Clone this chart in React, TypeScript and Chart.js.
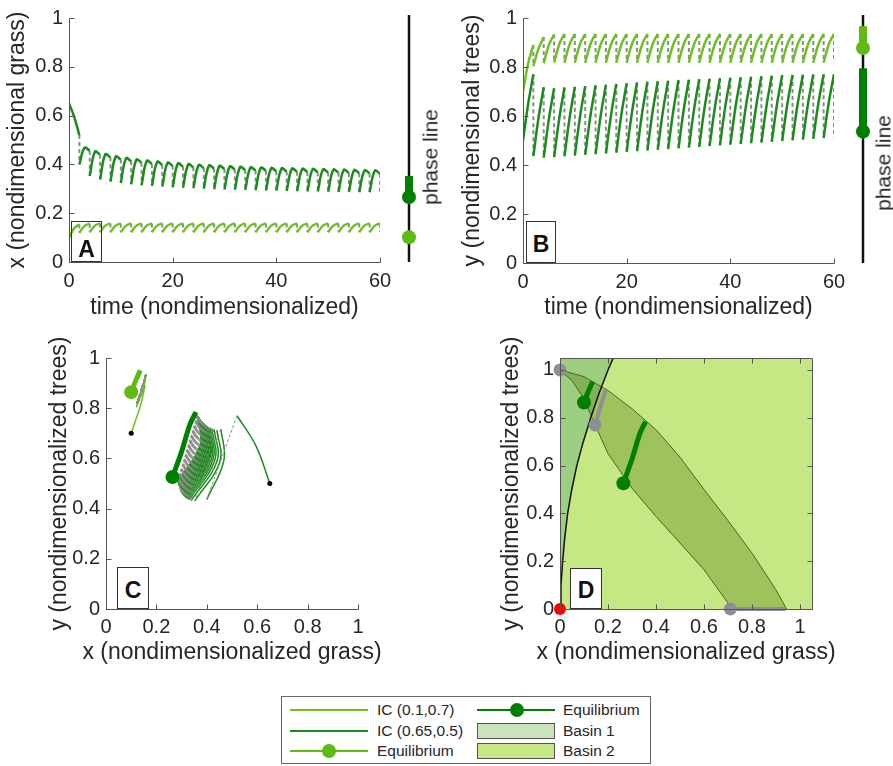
import React, { useEffect, useRef } from 'react';
import { Chart, registerables } from 'chart.js';

Chart.register(...registerables);

const FONT = "'Liberation Sans', Arial, Helvetica, sans-serif";
const TEXT = '#262626';
const AXIS = '#555555';

const C_LIGHT = '#6cc21f';
const C_LIGHT_EQ = '#5fba14';
const C_DARK = '#1a8c1a';
const C_DARK_EQ = '#008000';
const C_GRAY = '#8c8c8c';
const C_GRAY_EQ = '#8e8e96';
const C_BASIN1 = '#c8e5ba';
const C_BASIN2 = '#c5e885';
const C_WEDGE = '#9ccf80';
const C_LENS = 'rgba(70,110,0,0.30)';
const C_LENS_EDGE = '#4c6420';

// ---------------- data ----------------
const periodTimes = [0, 2, 4, 6, 8, 10, 12, 14, 16, 18, 20, 22, 24, 26, 28, 30, 32, 34, 36, 38, 40, 42, 44, 46, 48, 50, 52, 54, 56, 58, 60];

// IC (0.1, 0.7): grass x
const grassIC1Start = [0.100, 0.120, 0.122, 0.122, 0.122, 0.122, 0.122, 0.122, 0.122, 0.122, 0.122, 0.122, 0.122, 0.122, 0.122, 0.122, 0.122, 0.122, 0.122, 0.122, 0.122, 0.122, 0.122, 0.122, 0.122, 0.122, 0.122, 0.122, 0.122, 0.122, 0.122];
const grassIC1Mid = [0.138, 0.148, 0.149, 0.149, 0.149, 0.149, 0.149, 0.149, 0.149, 0.149, 0.149, 0.149, 0.149, 0.149, 0.149, 0.149, 0.149, 0.149, 0.149, 0.149, 0.149, 0.149, 0.149, 0.149, 0.149, 0.149, 0.149, 0.149, 0.149, 0.149];
const grassIC1End = [0.155, 0.157, 0.158, 0.158, 0.158, 0.158, 0.158, 0.158, 0.158, 0.158, 0.158, 0.158, 0.158, 0.158, 0.158, 0.158, 0.158, 0.158, 0.158, 0.158, 0.158, 0.158, 0.158, 0.158, 0.158, 0.158, 0.158, 0.158, 0.158, 0.158];
// IC (0.1, 0.7): trees y
const treesIC1Start = [0.700, 0.804, 0.815, 0.818, 0.818, 0.818, 0.818, 0.818, 0.818, 0.818, 0.818, 0.818, 0.818, 0.818, 0.818, 0.818, 0.818, 0.818, 0.818, 0.818, 0.818, 0.818, 0.818, 0.818, 0.818, 0.818, 0.818, 0.818, 0.818, 0.818, 0.818];
const treesIC1Mid = [0.815, 0.875, 0.890, 0.893, 0.893, 0.893, 0.893, 0.893, 0.893, 0.893, 0.893, 0.893, 0.893, 0.893, 0.893, 0.893, 0.893, 0.893, 0.893, 0.893, 0.893, 0.893, 0.893, 0.893, 0.893, 0.893, 0.893, 0.893, 0.893, 0.893];
const treesIC1End = [0.890, 0.922, 0.933, 0.935, 0.935, 0.935, 0.935, 0.935, 0.935, 0.935, 0.935, 0.935, 0.935, 0.935, 0.935, 0.935, 0.935, 0.935, 0.935, 0.935, 0.935, 0.935, 0.935, 0.935, 0.935, 0.935, 0.935, 0.935, 0.935, 0.935];

// IC (0.65, 0.5): grass x
const grassIC2Start = [0.650, 0.400, 0.352, 0.338, 0.330, 0.324, 0.319, 0.315, 0.312, 0.309, 0.306, 0.304, 0.302, 0.300, 0.298, 0.297, 0.296, 0.295, 0.294, 0.293, 0.292, 0.291, 0.290, 0.289, 0.289, 0.288, 0.287, 0.287, 0.286, 0.286, 0.285];
const grassIC2Mid = [0.595, 0.468, 0.452, 0.441, 0.432, 0.425, 0.419, 0.414, 0.410, 0.406, 0.403, 0.400, 0.397, 0.395, 0.393, 0.391, 0.389, 0.387, 0.386, 0.384, 0.383, 0.382, 0.381, 0.380, 0.379, 0.378, 0.377, 0.376, 0.375, 0.374];
const grassIC2End = [0.520, 0.456, 0.440, 0.429, 0.420, 0.413, 0.407, 0.402, 0.398, 0.394, 0.391, 0.388, 0.385, 0.383, 0.381, 0.379, 0.377, 0.375, 0.374, 0.372, 0.371, 0.370, 0.369, 0.368, 0.367, 0.366, 0.365, 0.364, 0.363, 0.362];
// IC (0.65, 0.5): trees y
const treesIC2Start = [0.500, 0.436, 0.430, 0.432, 0.435, 0.438, 0.441, 0.444, 0.447, 0.450, 0.453, 0.456, 0.459, 0.462, 0.465, 0.468, 0.471, 0.474, 0.477, 0.480, 0.483, 0.486, 0.489, 0.492, 0.495, 0.498, 0.501, 0.504, 0.507, 0.510, 0.512];
const treesIC2Mid = [0.650, 0.593, 0.588, 0.591, 0.594, 0.597, 0.600, 0.603, 0.606, 0.609, 0.612, 0.615, 0.617, 0.620, 0.622, 0.625, 0.627, 0.630, 0.632, 0.635, 0.637, 0.639, 0.642, 0.644, 0.647, 0.649, 0.651, 0.652, 0.654, 0.656];
const treesIC2End = [0.770, 0.717, 0.713, 0.716, 0.719, 0.722, 0.725, 0.728, 0.731, 0.734, 0.737, 0.740, 0.742, 0.744, 0.746, 0.748, 0.750, 0.752, 0.754, 0.756, 0.758, 0.760, 0.762, 0.764, 0.766, 0.767, 0.768, 0.769, 0.770, 0.771];

// initial conditions
const icX = [0.1, 0.65];
const icY = [0.7, 0.5];

// stable periodic orbits (equilibria of the impulsive map)
const eqUpperX = [0.100, 0.118, 0.136];
const eqUpperY = [0.864, 0.910, 0.951];
const eqLowerX = [0.264, 0.299, 0.333, 0.357];
const eqLowerY = [0.526, 0.624, 0.735, 0.784];

// phase lines
const phaseAxisX = [0, 0];
const phaseAxisY = [0, 1];
const phaseAGrassLight = [0.1];
const phaseAGrassDark = [0.263, 0.348];
const phaseBTreesLight = [0.867, 0.955];
const phaseBTreesDark = [0.53, 0.785];

// panel D: basins
const domainCornersX = [0, 1.05, 1.05, 0];
const domainCornersY = [0, 0, 1.05, 1.05];
const separatrixX = [0, 0.004, 0.011, 0.020, 0.032, 0.049, 0.070, 0.097, 0.128, 0.162, 0.200, 0.222];
const separatrixY = [0, 0.1, 0.2, 0.3, 0.4, 0.5, 0.6, 0.7, 0.8, 0.9, 1.0, 1.05];
const basin1CornerX = [0];
const basin1CornerY = [1.05];
const lensUpperX = [0, 0.1, 0.2, 0.3, 0.4, 0.5, 0.6, 0.7, 0.8, 0.9, 0.944];
const lensUpperY = [1, 0.972, 0.914, 0.838, 0.75, 0.635, 0.5, 0.37, 0.234, 0.08, 0];
const lensLowerX = [0.71, 0.7, 0.6, 0.5, 0.4, 0.3, 0.2, 0.146, 0.1, 0.05, 0];
const lensLowerY = [0, 0.025, 0.164, 0.276, 0.387, 0.505, 0.65, 0.77, 0.88, 0.955, 1];
const unstableDotsX = [0, 0.146, 0.71];
const unstableDotsY = [1, 0.77, 0];
const unstableUpperX = [0.146, 0.168, 0.19];
const unstableUpperY = [0.77, 0.845, 0.916];
const unstableLowerX = [0.71, 0.94];
const unstableLowerY = [0, 0];
const originX = [0];
const originY = [0];

// ticks
const timeTicks = [0, 20, 40, 60];
const timeTickLabels = ['0', '20', '40', '60'];
const unitTicks = [0, 0.2, 0.4, 0.6, 0.8, 1];
const unitTickLabels = ['0', '0.2', '0.4', '0.6', '0.8', '1'];

// ---------------- helpers ----------------
const pts = (xs: number[], ys: number[]) => xs.map((x, i) => ({ x, y: ys[i] }));

const line = (data: any[], color: string, width: number, extra: any = {}) => ({
  data, borderColor: color, backgroundColor: color, borderWidth: width,
  pointRadius: 0, tension: 0, fill: false, ...extra,
});
const dots = (data: any[], color: string, radius: number, extra: any = {}) => ({
  data, showLine: false, pointRadius: radius, pointBackgroundColor: color,
  pointBorderColor: color, pointBorderWidth: 0, clip: false, ...extra,
});
const layered = (sets: any[]) => sets.map((s, i) => ({ ...s, order: sets.length - i }));

function toothSets(start: number[], mid: number[], end: number[], color: string, width: number) {
  return mid.map((m, k) => line([
    { x: periodTimes[k], y: start[k] },
    { x: (periodTimes[k] + periodTimes[k + 1]) / 2, y: m },
    { x: periodTimes[k + 1], y: end[k] },
  ], color, width, { tension: 0.4 }));
}
function jumpSet(start: number[], end: number[], color: string, width: number, dash: number[]) {
  const data: any[] = [];
  end.forEach((e, k) => {
    const t = periodTimes[k + 1];
    data.push({ x: t, y: e }, { x: t, y: start[k + 1] }, { x: t, y: null });
  });
  return line(data, color, width, { borderDash: dash });
}
function arcSets(xs: number[], xm: number[], xe: number[], ys: number[], ym: number[], ye: number[], color: string, width: number) {
  return xm.map((_, k) => line([
    { x: xs[k], y: ys[k] }, { x: xm[k], y: ym[k] }, { x: xe[k], y: ye[k] },
  ], color, width, { tension: 0.4 }));
}
function arcJumps(xs: number[], xe: number[], ys: number[], ye: number[], color: string, width: number, dash: number[]) {
  const data: any[] = [];
  xe.forEach((_, k) => {
    data.push({ x: xe[k], y: ye[k] }, { x: xs[k + 1], y: ys[k + 1] }, { x: xs[k + 1], y: null });
  });
  return line(data, color, width, { borderDash: dash });
}

function valueAxis(kind: 'x' | 'y', min: number, max: number, ticks: number[], labels: string[], size: number, tickPad: number, title?: string, titlePad = 0) {
  return {
    type: 'linear', position: kind === 'x' ? 'bottom' : 'left', min, max,
    afterBuildTicks: (sc: any) => { sc.ticks = ticks.map((v) => ({ value: v })); },
    afterFit: (sc: any) => { if (kind === 'x') sc.height = size; else sc.width = size; },
    grid: { display: false, drawTicks: false },
    border: { display: false },
    ticks: {
      padding: tickPad, color: TEXT, font: { size: 20, family: FONT },
      autoSkip: false, maxRotation: 0, minRotation: 0,
      callback: (_v: any, i: number) => labels[i],
    },
    title: title
      ? { display: true, text: title, color: TEXT, font: { size: 23, family: FONT, lineHeight: 1 }, padding: { top: titlePad, bottom: titlePad } }
      : { display: false },
  };
}
const spacerAxis = (size: number) => ({
  type: 'linear', position: 'right', display: true,
  grid: { display: false, drawTicks: false }, border: { display: false }, ticks: { display: false },
  afterFit: (sc: any) => { sc.width = size; },
});

const frameTicks = {
  id: 'frameTicks',
  afterDatasetsDraw(chart: any, _args: any, opts: any) {
    const { ctx, chartArea: a, scales } = chart;
    const L = opts.len || 5;
    const r = (v: number) => Math.round(v) + 0.5;
    const left = r(a.left), right = r(a.right), top = r(a.top), bottom = r(a.bottom);
    ctx.save();
    ctx.strokeStyle = opts.color || AXIS;
    ctx.lineWidth = 1;
    ctx.beginPath();
    ctx.moveTo(left, top); ctx.lineTo(left, bottom); ctx.lineTo(right, bottom);
    if (opts.box) { ctx.lineTo(right, top); ctx.lineTo(left, top); }
    scales.x.ticks.forEach((t: any) => {
      const p = r(scales.x.getPixelForValue(t.value));
      ctx.moveTo(p, bottom); ctx.lineTo(p, bottom - L);
      if (opts.box) { ctx.moveTo(p, top); ctx.lineTo(p, top + L); }
    });
    scales.y.ticks.forEach((t: any) => {
      const p = r(scales.y.getPixelForValue(t.value));
      ctx.moveTo(left, p); ctx.lineTo(left + L, p);
      if (opts.box) { ctx.moveTo(right, p); ctx.lineTo(right - L, p); }
    });
    ctx.stroke();
    ctx.restore();
  },
};

function panelOptions(padTop: number, scales: any, xTitle: string, titlePad: number, box: boolean) {
  return {
    responsive: false, animation: false, events: [],
    layout: { padding: { top: padTop, left: 0, right: 0, bottom: 0 } },
    elements: { point: { radius: 0, hitRadius: 0 }, line: { fill: false } },
    plugins: {
      legend: { display: false }, tooltip: { enabled: false },
      title: {
        display: true, position: 'bottom', text: xTitle, color: TEXT,
        font: { size: 23, family: FONT, lineHeight: 1, weight: 'normal' },
        padding: { top: titlePad, bottom: titlePad },
      },
      frameTicks: { box, len: 5, color: AXIS },
    },
    scales,
  };
}

function phaseOptions(padTop: number, padBottom: number) {
  return {
    responsive: false, animation: false, events: [],
    layout: { padding: { top: padTop, bottom: padBottom, left: 0, right: 0 } },
    elements: { point: { radius: 0, hitRadius: 0 } },
    plugins: { legend: { display: false }, tooltip: { enabled: false } },
    scales: {
      x: { type: 'linear', min: -1, max: 1, display: false },
      y: { type: 'linear', min: 0, max: 1, display: false },
    },
  };
}

// ---------------- configs ----------------
function configA(): any {
  return {
    type: 'line',
    data: {
      datasets: layered([
        jumpSet(grassIC1Start, grassIC1End, C_GRAY, 2, [4, 3]),
        jumpSet(grassIC2Start, grassIC2End, C_GRAY, 2, [4, 3]),
        ...toothSets(grassIC1Start, grassIC1Mid, grassIC1End, C_LIGHT, 2.5),
        ...toothSets(grassIC2Start, grassIC2Mid, grassIC2End, C_DARK, 2.5),
      ]),
    },
    options: panelOptions(15, {
      x: valueAxis('x', 0, 60, timeTicks, timeTickLabels, 34, 7),
      y: valueAxis('y', 0, 1, unitTicks, unitTickLabels, 69, 6, 'x (nondimensional grass)', 6.5),
      y2: spacerAxis(69),
    }, 'time (nondimensionalized)', 0.5, false),
    plugins: [frameTicks],
  };
}
function configB(): any {
  return {
    type: 'line',
    data: {
      datasets: layered([
        jumpSet(treesIC1Start, treesIC1End, C_GRAY, 2, [4, 3]),
        jumpSet(treesIC2Start, treesIC2End, C_GRAY, 2, [4, 3]),
        ...toothSets(treesIC1Start, treesIC1Mid, treesIC1End, C_LIGHT, 2.5),
        ...toothSets(treesIC2Start, treesIC2Mid, treesIC2End, C_DARK, 2.5),
      ]),
    },
    options: panelOptions(15, {
      x: valueAxis('x', 0, 60, timeTicks, timeTickLabels, 33, 7),
      y: valueAxis('y', 0, 1, unitTicks, unitTickLabels, 83, 6, 'y (nondimensional trees)', 21.5),
      y2: spacerAxis(83),
    }, 'time (nondimensionalized)', 0.5, false),
    plugins: [frameTicks],
  };
}
function configC(): any {
  return {
    type: 'line',
    data: {
      datasets: layered([
        ...arcSets(grassIC1Start, grassIC1Mid, grassIC1End, treesIC1Start, treesIC1Mid, treesIC1End, C_LIGHT, 1.5),
        ...arcSets(grassIC2Start, grassIC2Mid, grassIC2End, treesIC2Start, treesIC2Mid, treesIC2End, C_DARK, 1.5),
        arcJumps(grassIC1Start, grassIC1End, treesIC1Start, treesIC1End, C_GRAY, 1, [3, 2]),
        arcJumps(grassIC2Start, grassIC2End, treesIC2Start, treesIC2End, C_GRAY, 1, [3, 2]),
        line(pts(eqUpperX, eqUpperY), C_LIGHT_EQ, 5, { tension: 0.3 }),
        line(pts(eqLowerX, eqLowerY), C_DARK_EQ, 5, { tension: 0.3 }),
        dots([{ x: eqUpperX[0], y: eqUpperY[0] }], C_LIGHT_EQ, 7),
        dots([{ x: eqLowerX[0], y: eqLowerY[0] }], C_DARK_EQ, 7),
        dots(pts(icX, icY), '#000000', 2.5),
      ]),
    },
    options: panelOptions(28, {
      x: valueAxis('x', 0, 1, unitTicks, unitTickLabels, 27, 6),
      y: valueAxis('y', 0, 1, unitTicks, unitTickLabels, 106, 6, 'y (nondimensionalized trees)', 48.5),
      y2: spacerAxis(106),
    }, 'x (nondimensionalized grass)', 5.5, false),
    plugins: [frameTicks],
  };
}
function configD(): any {
  return {
    type: 'line',
    data: {
      datasets: layered([
        line(pts(domainCornersX, domainCornersY), C_BASIN2, 0, { fill: 'shape', backgroundColor: C_BASIN2 }),
        line([...pts(separatrixX, separatrixY), ...pts(basin1CornerX, basin1CornerY)], C_WEDGE, 0, { fill: 'shape', backgroundColor: C_WEDGE }),
        line([...pts(lensUpperX, lensUpperY), ...pts(lensLowerX, lensLowerY)], C_LENS_EDGE, 1, { fill: 'shape', backgroundColor: C_LENS }),
        line(pts(separatrixX, separatrixY), '#111111', 1.5),
        line(pts(unstableUpperX, unstableUpperY), C_GRAY_EQ, 4),
        line(pts(unstableLowerX, unstableLowerY), C_GRAY_EQ, 4, { clip: false }),
        line(pts(eqUpperX, eqUpperY), C_DARK_EQ, 5, { tension: 0.3 }),
        line(pts(eqLowerX, eqLowerY), C_DARK_EQ, 5, { tension: 0.3 }),
        dots(pts(unstableDotsX, unstableDotsY), C_GRAY_EQ, 6.5),
        dots([{ x: eqUpperX[0], y: eqUpperY[0] }, { x: eqLowerX[0], y: eqLowerY[0] }], C_DARK_EQ, 7),
        dots(pts(originX, originY), '#ff0000', 6),
      ]),
    },
    options: panelOptions(28, {
      x: valueAxis('x', 0, 1.05, unitTicks, unitTickLabels, 27, 6),
      y: valueAxis('y', 0, 1.05, unitTicks, unitTickLabels, 120, 6, 'y (nondimensionalized trees)', 60.5),
      y2: spacerAxis(120),
    }, 'x (nondimensionalized grass)', 5.5, true),
    plugins: [frameTicks],
  };
}
function configPhaseA(): any {
  return {
    type: 'line',
    data: {
      datasets: layered([
        line(pts(phaseAxisX, phaseAxisY), '#111111', 2.5),
        line(pts(phaseAxisX, phaseAGrassDark), C_DARK_EQ, 8),
        dots([{ x: 0, y: phaseAGrassDark[0] }], C_DARK_EQ, 7),
        dots([{ x: 0, y: phaseAGrassLight[0] }], C_LIGHT_EQ, 7),
      ]),
    },
    options: phaseOptions(15, 18),
  };
}
function configPhaseB(): any {
  return {
    type: 'line',
    data: {
      datasets: layered([
        line(pts(phaseAxisX, phaseAxisY), '#111111', 2.5),
        line(pts(phaseAxisX, phaseBTreesLight), C_LIGHT_EQ, 8),
        line(pts(phaseAxisX, phaseBTreesDark), C_DARK_EQ, 8),
        dots([{ x: 0, y: phaseBTreesLight[0] }], C_LIGHT_EQ, 7),
        dots([{ x: 0, y: phaseBTreesDark[0] }], C_DARK_EQ, 7),
      ]),
    },
    options: phaseOptions(15, 17),
  };
}

// ---------------- components ----------------
function PanelTag(p: { letter: string; left: number; top: number; width: number; height: number; textTop: number; white?: boolean }) {
  return (
    <div style={{ position: 'absolute', left: p.left, top: p.top, width: p.width, height: p.height, border: '1px solid #333', boxSizing: 'border-box', background: p.white ? '#fff' : 'transparent', fontFamily: FONT }}>
      <div style={{ position: 'absolute', left: 0, right: 0, top: p.textTop, textAlign: 'center', fontWeight: 'bold', fontSize: 23, lineHeight: '24px', color: '#111' }}>{p.letter}</div>
    </div>
  );
}

function PhaseLabel(p: { cx: number; cy: number }) {
  return (
    <div style={{ position: 'absolute', left: p.cx, top: p.cy, transform: 'translate(-50%,-50%) rotate(-90deg)', fontSize: 21, lineHeight: 1, whiteSpace: 'nowrap', color: TEXT, fontFamily: FONT }}>phase line</div>
  );
}

function Legend() {
  const rows = [13, 34, 54];
  const text = (left: number, y: number): any => ({ position: 'absolute', left, top: y - 10, height: 20, lineHeight: '20px', fontSize: 15.5, color: TEXT, whiteSpace: 'nowrap' });
  const seg = (left: number, y: number, color: string): any => ({ position: 'absolute', left, top: y - 0.75, width: 78, height: 1.5, background: color });
  const dot = (cx: number, y: number, color: string): any => ({ position: 'absolute', left: cx - 7, top: y - 7, width: 14, height: 14, borderRadius: '50%', background: color });
  const swatch = (top: number, color: string): any => ({ position: 'absolute', left: 195, top, width: 78, height: 16, background: color, border: '1px solid #555', boxSizing: 'border-box' });
  return (
    <div style={{ position: 'absolute', left: 281, top: 696, width: 370, height: 68, border: '1px solid #666', boxSizing: 'border-box', background: '#fff', fontFamily: FONT }}>
      <div style={seg(8, rows[0], C_LIGHT)} />
      <div style={text(95, rows[0])}>IC (0.1,0.7)</div>
      <div style={seg(8, rows[1], C_DARK)} />
      <div style={text(95, rows[1])}>IC (0.65,0.5)</div>
      <div style={seg(8, rows[2], C_LIGHT_EQ)} />
      <div style={dot(47, rows[2], C_LIGHT_EQ)} />
      <div style={text(95, rows[2])}>Equilibrium</div>
      <div style={seg(195, rows[0], C_DARK_EQ)} />
      <div style={dot(235, rows[0], C_DARK_EQ)} />
      <div style={text(281, rows[0])}>Equilibrium</div>
      <div style={swatch(26, C_BASIN1)} />
      <div style={text(281, rows[1])}>Basin 1</div>
      <div style={swatch(46, C_BASIN2)} />
      <div style={text(281, rows[2])}>Basin 2</div>
    </div>
  );
}

export default function App() {
  const aRef = useRef<HTMLCanvasElement>(null);
  const bRef = useRef<HTMLCanvasElement>(null);
  const cRef = useRef<HTMLCanvasElement>(null);
  const dRef = useRef<HTMLCanvasElement>(null);
  const paRef = useRef<HTMLCanvasElement>(null);
  const pbRef = useRef<HTMLCanvasElement>(null);

  useEffect(() => {
    document.body.style.margin = '0';
    Chart.defaults.font.family = FONT;
    const charts = [
      new Chart(aRef.current as HTMLCanvasElement, configA()),
      new Chart(bRef.current as HTMLCanvasElement, configB()),
      new Chart(cRef.current as HTMLCanvasElement, configC()),
      new Chart(dRef.current as HTMLCanvasElement, configD()),
      new Chart(paRef.current as HTMLCanvasElement, configPhaseA()),
      new Chart(pbRef.current as HTMLCanvasElement, configPhaseB()),
    ];
    return () => charts.forEach((c) => c.destroy());
  }, []);

  const abs = (left: number, top: number): any => ({ position: 'absolute', left, top });

  return (
    <div style={{ position: 'absolute', left: 0, top: 0, width: 893, height: 766, overflow: 'hidden', background: '#fff', fontFamily: FONT }}>
      <canvas ref={aRef} width={449} height={320} style={abs(0, 0)} />
      <canvas ref={bRef} width={477} height={320} style={abs(440, 0)} />
      <canvas ref={cRef} width={464} height={340} style={abs(0, 330)} />
      <canvas ref={dRef} width={492} height={340} style={abs(440, 330)} />
      <canvas ref={paRef} width={30} height={280} style={abs(394, 0)} />
      <canvas ref={pbRef} width={30} height={280} style={abs(848, 0)} />
      <PhaseLabel cx={430} cy={157} />
      <PhaseLabel cx={883} cy={163} />
      <PanelTag letter="A" left={71} top={221} width={31} height={41} textTop={15} />
      <PanelTag letter="B" left={526} top={221} width={30} height={42} textTop={10} white />
      <PanelTag letter="C" left={117} top={567} width={32} height={42} textTop={10} white />
      <PanelTag letter="D" left={570} top={568} width={32} height={41} textTop={9} white />
      <Legend />
    </div>
  );
}
